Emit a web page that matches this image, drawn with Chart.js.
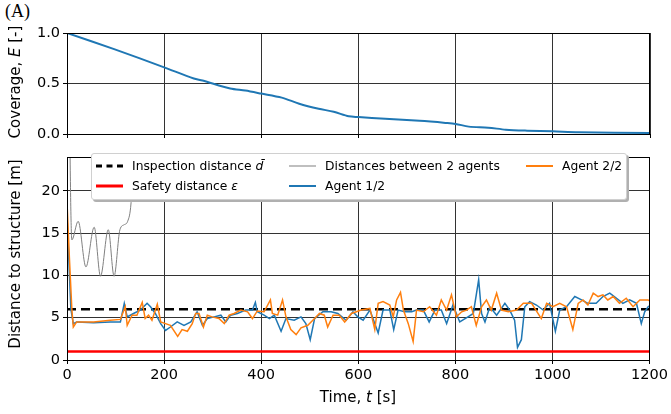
<!DOCTYPE html>
<html>
<head>
<meta charset="utf-8">
<script src="https://cdn.jsdelivr.net/npm/chart.js@4.4.1/dist/chart.umd.min.js"></script>
<style>
    body { margin: 0; background: #fff; font-family: 'DejaVu Sans', sans-serif; }
    #wrap { position: relative; width: 671px; height: 414px; overflow: hidden; }
    canvas { position: absolute; left: 0; }
    #coverageChart { top: 0; }
    #distanceChart { top: 150px; }
    .tag { position: absolute; left: 5px; top: 1px; font-family: 'Liberation Serif', 'DejaVu Serif', serif; font-size: 18px; }
    .ylab { position: absolute; font-size: 15px; white-space: nowrap; transform: translate(-50%, -50%) rotate(-90deg); }
    .xlab { position: absolute; font-size: 15px; white-space: nowrap; transform: translate(-50%, -50%); }
    #legend { position: absolute; left: 91px; top: 153px; width: 534px; height: 45px; background: #fff;
        border: 1px solid #d0d0d0; border-radius: 3px; box-shadow: 2px 2px 0 #b0b0b0; font-size: 12.3px; }
    .item { position: absolute; white-space: nowrap; transform: translateY(-50%); }
    .swatch { position: absolute; transform: translateY(-50%); }
</style>
</head>
<body>
<div id="wrap">
    <div class="tag">(A)</div>
    <canvas id="coverageChart" width="671" height="150"></canvas>
    <canvas id="distanceChart" width="671" height="264"></canvas>
    <div class="ylab" style="left:15px; top:82px;">Coverage, <i>E</i> [-]</div>
    <div class="ylab" style="left:15px; top:254px;">Distance to structure [m]</div>
    <div class="xlab" style="left:358px; top:397px;">Time, <i>t</i> [s]</div>
    <div id="legend">
        <div class="swatch" style="left:4px; top:12px; width:27px; border-top:3px dashed #000;"></div>
        <div class="item" style="left:40px; top:12px;">Inspection distance <i>d̄</i></div>
        <div class="swatch" style="left:4px; top:32px; width:27px; height:3px; background:#ff0000;"></div>
        <div class="item" style="left:40px; top:32px;">Safety distance <i>ε</i></div>
        <div class="swatch" style="left:197px; top:12px; width:27px; height:1px; background:#808080;"></div>
        <div class="item" style="left:233px; top:12px;">Distances between 2 agents</div>
        <div class="swatch" style="left:197px; top:32px; width:27px; height:2px; background:#1f77b4;"></div>
        <div class="item" style="left:233px; top:32px;">Agent 1/2</div>
        <div class="swatch" style="left:434px; top:12px; width:27px; height:2px; background:#ff7f0e;"></div>
        <div class="item" style="left:470px; top:12px;">Agent 2/2</div>
    </div>
</div>
<script>
// Coverage over time
const coverageTime = [0, 97, 200, 261, 279, 336, 367, 400, 442, 478, 518, 549, 580, 600, 655, 726, 779, 800, 827, 867, 903, 947, 1000, 1053, 1200];
const coverageValue = [1.0, 0.84, 0.66, 0.55, 0.53, 0.45, 0.43, 0.40, 0.36, 0.30, 0.25, 0.22, 0.175, 0.168, 0.15, 0.13, 0.11, 0.10, 0.073, 0.063, 0.043, 0.033, 0.026, 0.017, 0.01];

// Distance between the two agents (mostly above the visible range)
const gapTime = [0, 10, 23, 39, 56, 69, 85, 97, 109, 118, 125, 132, 137, 142, 500, 868, 877, 886];
const gapValue = [60, 14.2, 16.4, 11.0, 15.7, 9.9, 15.4, 9.9, 15.4, 16.0, 16.4, 18.6, 24, 40, null, 40, 19.3, 40];

// Agent 1/2 distance to structure
const agent1Time = [0, 8, 13, 20, 55, 89, 110, 118, 124, 137, 151, 165, 172, 182, 193, 203, 213, 227, 241, 255, 268, 279, 289, 303, 317, 327, 337, 351, 368, 382, 388, 392, 406, 417, 427, 441, 451, 468, 482, 492, 501, 510, 527, 544, 558, 575, 589, 599, 610, 624, 641, 651, 665, 673, 682, 696, 710, 720, 734, 746, 758, 771, 782, 795, 809, 826, 837, 848, 854, 861, 871, 885, 902, 912, 922, 928, 936, 943, 953, 967, 981, 994, 1006, 1015, 1029, 1046, 1060, 1073, 1090, 1104, 1118, 1132, 1145, 1159, 1173, 1183, 1190, 1197, 1200];
const agent1Value = [17, 6, 4.3, 4.5, 4.4, 4.5, 4.5, 6.7, 5.1, 5.5, 5.9, 6.7, 6.3, 5.5, 4.3, 3.5, 3.9, 4.5, 4.1, 4.5, 5.7, 4.1, 4.9, 5.1, 5.3, 4.5, 5.3, 5.5, 5.9, 5.9, 6.8, 5.7, 5.3, 4.9, 5.3, 3.4, 4.9, 4.7, 5.1, 4.3, 2.4, 4.9, 5.7, 5.7, 5.5, 4.7, 5.7, 5.1, 4.7, 5.9, 3.2, 5.9, 5.9, 3.6, 5.9, 5.7, 5.7, 5.9, 5.9, 4.5, 5.9, 5.9, 4.3, 6.5, 4.5, 5.1, 5.5, 9.5, 5.5, 4.5, 6.3, 5.3, 6.7, 5.9, 4.7, 1.5, 2.4, 6.3, 6.9, 6.5, 5.9, 6.7, 3.4, 5.9, 6.3, 7.5, 7.1, 6.7, 6.7, 7.5, 7.9, 7.3, 6.7, 7.1, 6.7, 4.3, 5.7, 6.3, 6.4];

// Agent 2/2 distance to structure
const agent2Time = [0, 5, 10, 13, 20, 55, 89, 110, 120, 124, 134, 144, 155, 161, 168, 175, 186, 193, 203, 213, 228, 237, 248, 258, 265, 272, 281, 289, 299, 313, 324, 334, 344, 358, 372, 382, 392, 406, 419, 423, 434, 444, 451, 461, 472, 482, 496, 510, 520, 530, 537, 548, 561, 572, 586, 596, 606, 624, 634, 641, 651, 665, 672, 679, 687, 693, 703, 713, 720, 734, 747, 761, 771, 782, 792, 802, 813, 823, 833, 843, 854, 864, 874, 885, 895, 909, 926, 940, 957, 977, 988, 1001, 1015, 1029, 1042, 1053, 1063, 1073, 1084, 1094, 1104, 1114, 1125, 1138, 1152, 1166, 1180, 1197, 1200];
const agent2Value = [18.7, 12, 6, 3.9, 4.5, 4.5, 4.7, 4.8, 6.3, 4.1, 5.3, 5.3, 6.8, 4.9, 5.3, 4.7, 6.6, 4.5, 4.3, 4.1, 2.8, 3.6, 3.4, 4.3, 5.5, 5.5, 3.9, 5.3, 5.1, 4.9, 4.3, 5.3, 5.5, 5.9, 5.7, 4.9, 5.8, 5.7, 7.1, 5.5, 5.3, 7.1, 5.1, 3.6, 3.0, 3.8, 4.1, 4.9, 5.5, 5.3, 3.9, 5.3, 5.3, 4.5, 5.5, 5.7, 5.9, 6.1, 3.6, 6.7, 6.9, 6.5, 5.1, 7.1, 8.0, 5.9, 4.3, 2.2, 5.9, 5.7, 6.3, 5.3, 7.1, 5.9, 7.7, 5.1, 5.7, 5.9, 6.3, 4.1, 6.3, 7.1, 5.9, 7.9, 5.9, 5.7, 5.9, 6.7, 6.7, 4.9, 6.7, 6.3, 6.7, 6.3, 3.6, 6.7, 7.1, 6.5, 7.9, 7.5, 7.7, 7.1, 7.5, 6.7, 7.3, 6.3, 7.1, 7.1, 7.0];

const inspectionDistance = 6;
const safetyDistance = 1;
const timeRange = [0, 1200];
const timeTicks = [0, 200, 400, 600, 800, 1000, 1200];

const toPoints = (xs, ys) => xs.map((x, i) => ({ x: x, y: ys[i] }));

Chart.defaults.font.family = "'DejaVu Sans', sans-serif";
Chart.defaults.font.size = 14.5;
Chart.defaults.color = '#000';

const gridColor = '#333';

// full box around the plot area, like matplotlib spines
const frame = {
    id: 'frame',
    afterDatasetsDraw(chart) {
        const a = chart.chartArea;
        const ctx = chart.ctx;
        ctx.save();
        ctx.strokeStyle = '#000';
        ctx.lineWidth = 1;
        ctx.strokeRect(Math.round(a.left) + 0.5, Math.round(a.top) + 0.5, Math.round(a.right - a.left) - 1, Math.round(a.bottom - a.top));
        ctx.restore();
    }
};

function xAxis(height, showLabels) {
    return {
        type: 'linear',
        min: timeRange[0],
        max: timeRange[1],
        afterBuildTicks: (s) => { s.ticks = timeTicks.map(v => ({ value: v })); },
        afterFit: (s) => { s.height = height; },
        grid: { color: gridColor, tickColor: '#000', tickLength: 4 },
        border: { color: '#000' },
        ticks: { padding: 3, maxRotation: 0, callback: (v) => showLabels ? String(v) : '' }
    };
}

function yAxis(max, tickValues, fmt) {
    return {
        min: 0,
        max: max,
        afterBuildTicks: (s) => { s.ticks = tickValues.map(v => ({ value: v })); },
        afterFit: (s) => { s.width = 67; s.paddingTop = 0; s.paddingBottom = 0; },
        grid: { color: gridColor, tickColor: '#000', tickLength: 4 },
        border: { color: '#000' },
        ticks: { padding: 3, callback: fmt }
    };
}

const coverageCtx = document.getElementById('coverageChart').getContext('2d');
const coverageChart = new Chart(coverageCtx, {
    type: 'line',
    data: {
        datasets: [{
            data: toPoints(coverageTime, coverageValue),
            borderColor: '#1f77b4',
            borderWidth: 2,
            pointRadius: 0,
            tension: 0.3
        }]
    },
    options: {
        responsive: false,
        animation: false,
        layout: { padding: { top: 33, right: 21, left: 0, bottom: 0 } },
        plugins: { legend: { display: false }, tooltip: { enabled: false } },
        scales: {
            x: xAxis(16, false),
            y: yAxis(1, [0, 0.5, 1], (v) => v.toFixed(1))
        }
    },
    plugins: [frame]
});

const distanceCtx = document.getElementById('distanceChart').getContext('2d');
const distanceChart = new Chart(distanceCtx, {
    type: 'line',
    data: {
        datasets: [
            {
                label: 'Agent 2/2',
                data: toPoints(agent2Time, agent2Value),
                borderColor: '#ff7f0e',
                borderWidth: 1.5,
                pointRadius: 0,
                tension: 0,
                order: 0
            },
            {
                label: 'Agent 1/2',
                data: toPoints(agent1Time, agent1Value),
                borderColor: '#1f77b4',
                borderWidth: 1.5,
                pointRadius: 0,
                tension: 0,
                order: 1
            },
            {
                label: 'Distances between 2 agents',
                data: toPoints(gapTime, gapValue),
                borderColor: '#808080',
                borderWidth: 1,
                pointRadius: 0,
                cubicInterpolationMode: 'monotone',
                spanGaps: false,
                order: 2
            },
            {
                label: 'Inspection distance',
                data: toPoints(timeRange, [inspectionDistance, inspectionDistance]),
                borderColor: '#000',
                borderWidth: 2.5,
                borderDash: [9, 5],
                pointRadius: 0,
                order: 3
            },
            {
                label: 'Safety distance',
                data: toPoints(timeRange, [safetyDistance, safetyDistance]),
                borderColor: '#ff0000',
                borderWidth: 2.5,
                pointRadius: 0,
                order: 4
            }
        ]
    },
    options: {
        responsive: false,
        animation: false,
        layout: { padding: { top: 7, right: 21, left: 0, bottom: 0 } },
        plugins: { legend: { display: false }, tooltip: { enabled: false } },
        scales: {
            x: xAxis(54, true),
            y: yAxis(24, [0, 5, 10, 15, 20], (v) => String(v))
        }
    },
    plugins: [frame]
});
</script>
</body>
</html>
